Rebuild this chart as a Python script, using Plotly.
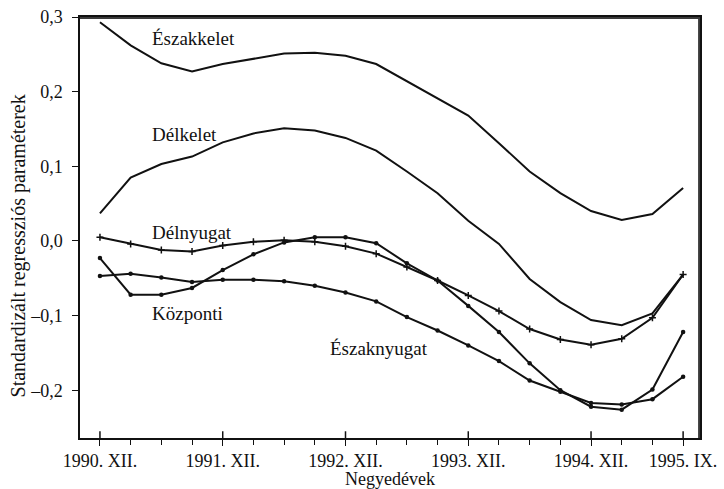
import plotly.graph_objects as go

quarters = ["1990. XII.", "1991. III.", "1991. VI.", "1991. IX.", "1991. XII.",
            "1992. III.", "1992. VI.", "1992. IX.", "1992. XII.", "1993. III.",
            "1993. VI.", "1993. IX.", "1993. XII.", "1994. III.", "1994. VI.",
            "1994. IX.", "1994. XII.", "1995. III.", "1995. VI.", "1995. IX."]
labeled_quarters = ["1990. XII.", "1991. XII.", "1992. XII.", "1993. XII.", "1994. XII.", "1995. IX."]

eszakkelet = [0.293, 0.262, 0.238, 0.227, 0.237, 0.244, 0.251, 0.252, 0.248, 0.237,
              0.214, 0.192, 0.168, 0.131, 0.093, 0.064, 0.040, 0.028, 0.036, 0.071]
delkelet = [0.037, 0.085, 0.103, 0.113, 0.132, 0.144, 0.151, 0.148, 0.138, 0.121,
            0.093, 0.064, 0.027, -0.004, -0.051, -0.082, -0.106, -0.113, -0.097, -0.045]
delnyugat = [0.005, -0.004, -0.012, -0.014, -0.006, -0.001, 0.001, -0.001, -0.007, -0.017,
             -0.035, -0.053, -0.073, -0.094, -0.118, -0.132, -0.139, -0.131, -0.103, -0.045]
kozponti = [-0.023, -0.072, -0.072, -0.063, -0.039, -0.018, -0.002, 0.005, 0.005, -0.003,
            -0.030, -0.053, -0.087, -0.122, -0.164, -0.200, -0.222, -0.226, -0.199, -0.122]
eszaknyugat = [-0.047, -0.044, -0.049, -0.055, -0.052, -0.052, -0.054, -0.060, -0.069, -0.081,
               -0.102, -0.120, -0.140, -0.161, -0.187, -0.202, -0.217, -0.219, -0.212, -0.182]

y_tickvals = [0.3, 0.2, 0.1, 0.0, -0.1, -0.2]
y_ticktext = ["0,3", "0,2", "0,1", "0,0", "\u20130,1", "\u20130,2"]

labels = [  # (text, quarter index anchor, value)
    ("Északkelet", 1.63, 0.271),
    ("Délkelet", 1.63, 0.143),
    ("Délnyugat", 1.63, 0.011),
    ("Központi", 1.63, -0.097),
    ("Északnyugat", 7.43, -0.144),
]
x_title = "Negyedévek"
y_title = "Standardizált regressziós paraméterek"

x = list(range(len(quarters)))
major = [quarters.index(q) for q in labeled_quarters]
minor = [i for i in x if i not in major]

FONT = "Liberation Serif"
INK = "#111111"
xr = [-0.65, 19.55]
yr = [-0.264, 0.3]
# frame edges drawn just inside the axis limits so they are not clipped away
frame_top = yr[1] - 0.0015
frame_right = xr[1] - 0.03

fig = go.Figure()
fig.add_trace(go.Scatter(x=[xr[0], frame_right, frame_right], y=[frame_top, frame_top, yr[0]],
                         mode="lines", line=dict(color="#3a3a3a", width=2),
                         hoverinfo="skip", showlegend=False))
fig.add_trace(go.Scatter(x=x, y=eszakkelet, mode="lines", name="Északkelet",
                         line=dict(color=INK, width=2)))
fig.add_trace(go.Scatter(x=x, y=delkelet, mode="lines", name="Délkelet",
                         line=dict(color=INK, width=2)))
fig.add_trace(go.Scatter(x=x, y=delnyugat, mode="lines+markers", name="Délnyugat",
                         line=dict(color=INK, width=2),
                         marker=dict(symbol="cross-thin", size=5, color=INK,
                                     line=dict(color=INK, width=1.5))))
fig.add_trace(go.Scatter(x=x, y=kozponti, mode="lines+markers", name="Központi",
                         line=dict(color=INK, width=2),
                         marker=dict(symbol="circle", size=4.5, color=INK)))
fig.add_trace(go.Scatter(x=x, y=eszaknyugat, mode="lines+markers", name="Északnyugat",
                         line=dict(color=INK, width=2),
                         marker=dict(symbol="circle", size=4.5, color=INK)))

for text, xi, yv in labels:
    fig.add_annotation(x=xi, y=yv, text=text, showarrow=False, xanchor="left",
                       yanchor="middle", font=dict(family=FONT, size=19, color=INK))

# y-axis title as rotated annotation
fig.add_annotation(xref="paper", yref="paper", x=-0.1, y=0.455, text=y_title,
                   textangle=-90, showarrow=False, xanchor="center", yanchor="middle",
                   font=dict(family=FONT, size=20, color=INK))

# inward part of the labelled x ticks
for m in major:
    fig.add_shape(type="line", xref="x", yref="paper", x0=m, x1=m, y0=0, y1=0.016,
                  line=dict(color=INK, width=1.5))

fig.update_layout(
    width=724, height=489,
    margin=dict(l=80, r=24, t=17, b=51, autoexpand=False),
    paper_bgcolor="white", plot_bgcolor="white",
    showlegend=False,
    font=dict(family=FONT, size=18, color=INK),
    xaxis=dict(range=xr, tickmode="array", tickvals=major, ticktext=labeled_quarters,
               ticks="outside", ticklen=6, tickwidth=1.3, tickcolor=INK,
               minor=dict(tickvals=minor, ticks="outside", ticklen=5, tickwidth=1.3,
                          tickcolor=INK),
               showline=True, linecolor=INK, linewidth=1.5, mirror=True,
               showgrid=False, zeroline=False, automargin=False,
               tickfont=dict(family=FONT, size=18, color=INK),
               title=dict(text=x_title, font=dict(family=FONT, size=18, color=INK),
                          standoff=0)),
    yaxis=dict(range=yr, tickmode="array", tickvals=y_tickvals,
               ticktext=y_ticktext, ticks="outside", ticklen=6, tickwidth=1.3,
               tickcolor=INK, showline=True, linecolor=INK, linewidth=1.5, mirror=True,
               showgrid=False, zeroline=False, automargin=False, ticklabelstandoff=6,
               tickfont=dict(family=FONT, size=18, color=INK)),
)

fig.write_html("out.html", config={"displayModeBar": False},
               post_script="document.body.style.margin='0';")
